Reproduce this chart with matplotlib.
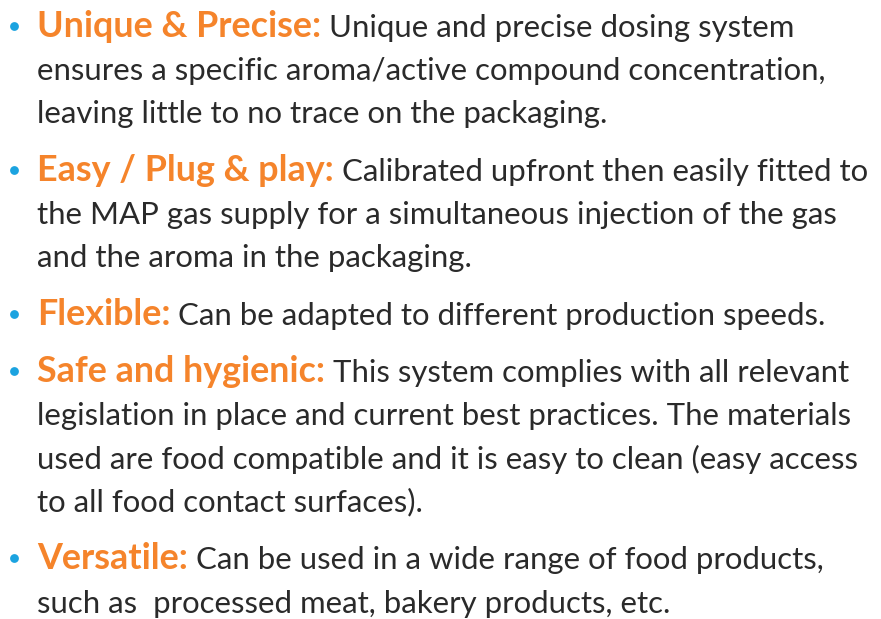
import matplotlib
matplotlib.use("Agg")
import matplotlib.pyplot as plt

headings = ["Unique & Precise:", "Easy / Plug & play:", "Flexible:",
            "Safe and hygienic:", "Versatile:"]
first_lines = [
    "Unique and precise dosing system",
    "Calibrated upfront then easily fitted to",
    "Can be adapted to different production speeds.",
    "This system complies with all relevant",
    "Can be used in a wide range of food products,",
]
more_lines = [
    ["ensures a specific aroma/active compound concentration,",
     "leaving little to no trace on the packaging."],
    ["the MAP gas supply for a simultaneous injection of the gas",
     "and the aroma in the packaging."],
    [],
    ["legislation in place and current best practices. The materials",
     "used are food compatible and it is easy to clean (easy access",
     "to all food contact surfaces)."],
    ["such as  processed meat, bakery products, etc."],
]

W, H = 881, 619
ORANGE = "#F5842B"
TEXT = "#2A2A2A"
CYAN = "#1BA3E0"
FONT = "Lato"

fig = plt.figure(figsize=(W / 100, H / 100), dpi=100)
ax = fig.add_axes([0, 0, 1, 1])
ax.set_xlim(0, W)
ax.set_ylim(H, 0)
ax.axis("off")
renderer = fig.canvas.get_renderer()


def width_of(s, size, weight):
    t = ax.text(0, 0, s, fontsize=size, fontfamily=FONT, fontweight=weight)
    w = t.get_window_extent(renderer).width
    t.remove()
    return w

body_size = 20 * 790 / width_of(more_lines[0][0], 20, "normal")
head_size = 20 * 285 / width_of(headings[0], 20, "bold")

x_text = 37
x_bullet = 14
line_gap = 43.2
item_gap = 57.5
y = 37
for head, first, more in zip(headings, first_lines, more_lines):
    ax.scatter([x_bullet], [y - 11], s=40, color=CYAN, linewidths=0)
    t = ax.text(x_text, y, head, fontsize=head_size, fontfamily=FONT,
                fontweight="bold", color=ORANGE, va="baseline")
    x_end = t.get_window_extent(renderer).x1
    ax.text(x_end + 8, y, first, fontsize=body_size, fontfamily=FONT,
            color=TEXT, va="baseline")
    for ln in more:
        y += line_gap
        ax.text(x_text, y, ln, fontsize=body_size, fontfamily=FONT,
                color=TEXT, va="baseline")
    y += item_gap

fig.savefig("out.png", dpi=100, facecolor="white")
